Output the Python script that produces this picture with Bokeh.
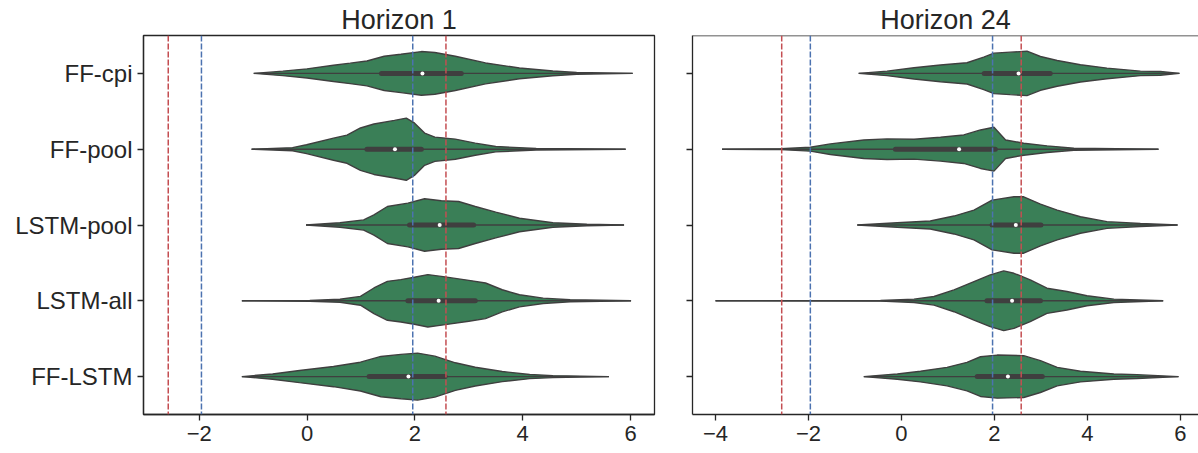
from bokeh.plotting import figure
from bokeh.layouts import row
from bokeh.models import Range1d, FixedTicker, Span
from bokeh.embed import file_html
from bokeh.resources import INLINE

# ---------------- data ----------------
models = ["FF-cpi", "FF-pool", "LSTM-pool", "LSTM-all", "FF-LSTM"]
panel_titles = ["Horizon 1", "Horizon 24"]

crit_values = [-2.576, -1.96, 1.96, 2.576]
crit_colors = ["#c44e52", "#4c72b0", "#4c72b0", "#c44e52"]

x_ticks_h1 = [-2, 0, 2, 4, 6]
x_ticks_h24 = [-4, -2, 0, 2, 4, 6]

# violin outline: x positions and half-widths (category units)
h1_prof_x = [
    [-0.99, -0.45, 0.0, 0.49, 0.8, 1.11, 1.43, 1.74, 2.12, 2.37, 2.75, 3.31, 3.94, 4.56, 5.0, 6.04],
    [-1.03, -0.27, -0.01, 0.49, 0.74, 0.99, 1.24, 1.62, 1.84, 1.99, 2.18, 2.37, 2.75, 3.12, 3.5, 4.25, 5.91],
    [-0.02, 0.61, 1.05, 1.24, 1.49, 1.87, 2.18, 2.49, 2.81, 3.12, 3.5, 3.94, 4.56, 5.19, 5.88],
    [-1.21, 0.05, 0.61, 0.99, 1.24, 1.49, 1.74, 1.99, 2.24, 2.56, 3.0, 3.31, 3.62, 3.94, 4.38, 4.88, 6.01],
    [-1.21, -0.64, -0.14, 0.49, 0.99, 1.37, 1.74, 2.05, 2.37, 2.75, 3.12, 3.62, 4.13, 4.56, 5.6],
]
h1_prof_w = [
    [0, 0.03, 0.06, 0.107, 0.135, 0.164, 0.226, 0.253, 0.288, 0.275, 0.226, 0.138, 0.071, 0.031, 0.012, 0],
    [0, 0.02, 0.058, 0.146, 0.186, 0.28, 0.333, 0.38, 0.41, 0.346, 0.213, 0.16, 0.133, 0.08, 0.035, 0.01, 0],
    [0, 0.03, 0.067, 0.133, 0.244, 0.288, 0.346, 0.32, 0.31, 0.244, 0.169, 0.089, 0.03, 0.01, 0],
    [0, 0.005, 0.02, 0.058, 0.169, 0.257, 0.28, 0.31, 0.346, 0.315, 0.27, 0.235, 0.146, 0.08, 0.035, 0.013, 0],
    [0, 0.035, 0.08, 0.133, 0.19, 0.266, 0.293, 0.31, 0.27, 0.182, 0.124, 0.067, 0.027, 0.013, 0],
]
h1_q1 = [1.38, 1.11, 1.90, 1.87, 1.15]
h1_med = [2.14, 1.63, 2.46, 2.44, 1.88]
h1_q3 = [2.86, 2.12, 3.09, 3.12, 2.56]

h24_prof_x = [
    [-0.92, -0.31, 0.27, 0.84, 1.41, 1.77, 1.99, 2.34, 2.7, 2.99, 3.35, 3.85, 4.42, 5.14, 5.57, 5.98],
    [-3.86, -2.6, -1.96, -1.53, -0.81, -0.31, 0.27, 0.84, 1.34, 1.7, 1.99, 2.24, 2.63, 3.13, 3.71, 5.53],
    [-0.95, -0.09, 0.62, 1.13, 1.56, 1.95, 2.42, 2.63, 2.99, 3.35, 3.85, 4.42, 5.14, 5.94],
    [-4.0, -0.45, 0.27, 0.7, 1.13, 1.56, 1.91, 2.2, 2.42, 2.77, 3.13, 3.56, 3.99, 4.57, 5.63],
    [-0.81, -0.09, 0.41, 0.98, 1.41, 1.7, 2.06, 2.63, 2.99, 3.35, 3.85, 4.57, 5.07, 5.96],
]
h24_prof_w = [
    [0, 0.03, 0.074, 0.11, 0.14, 0.214, 0.267, 0.28, 0.293, 0.223, 0.17, 0.114, 0.07, 0.03, 0.025, 0],
    [0, 0.005, 0.026, 0.07, 0.122, 0.136, 0.131, 0.157, 0.188, 0.254, 0.289, 0.122, 0.079, 0.044, 0.013, 0],
    [0, 0.03, 0.052, 0.118, 0.197, 0.328, 0.372, 0.372, 0.276, 0.197, 0.109, 0.044, 0.02, 0],
    [0, 0.004, 0.022, 0.057, 0.144, 0.254, 0.341, 0.394, 0.363, 0.276, 0.166, 0.122, 0.066, 0.022, 0],
    [0, 0.035, 0.07, 0.122, 0.188, 0.262, 0.284, 0.276, 0.21, 0.122, 0.07, 0.035, 0.026, 0],
]
h24_q1 = [1.78, -0.13, 1.95, 1.84, 1.63]
h24_med = [2.52, 1.24, 2.46, 2.38, 2.29]
h24_q3 = [3.20, 2.02, 3.00, 2.99, 3.03]

# ---------------- styling ----------------
FONT = "Liberation Sans"
DARK = "#262626"
EDGE = "#3f3f3f"
GREEN = "#3a7f57"


def make_panel(title, prof_x, prof_w, q1, med, q3, x_range, ticks, width,
               border_left, border_right, show_labels, full_outline):
    p = figure(width=width, height=453, x_range=Range1d(*x_range),
               y_range=Range1d(4.5, -0.5), output_backend="svg",
               toolbar_location=None, min_border_left=border_left,
               min_border_right=border_right, min_border_top=35,
               min_border_bottom=39, background_fill_color="white",
               border_fill_color="white")
    p.title.text = title
    p.title.align = "center"
    p.title.text_font = FONT
    p.title.text_font_size = "27px"
    p.title.text_font_style = "normal"
    p.title.text_color = DARK
    p.title.standoff = 1
    p.xgrid.visible = False
    p.ygrid.visible = False

    if full_outline:
        p.outline_line_color = DARK
        p.outline_line_width = 1.3
    else:
        p.outline_line_color = None
        p.add_layout(Span(location=-0.5, dimension="width",
                          line_color=DARK, line_width=1.3))

    # violins
    xs, ys = [], []
    for i, (px, pw) in enumerate(zip(prof_x, prof_w)):
        xs.append(list(px) + list(px)[::-1])
        ys.append([i - w for w in pw] + [i + w for w in list(pw)[::-1]])
    p.patches(xs=xs, ys=ys, fill_color=GREEN, line_color=EDGE, line_width=1.4)

    idx = list(range(len(models)))
    lo = [px[0] for px in prof_x]
    hi = [px[-1] for px in prof_x]
    p.segment(x0=lo, x1=hi, y0=idx, y1=idx, line_color=EDGE, line_width=1.4)
    p.segment(x0=q1, x1=q3, y0=idx, y1=idx, line_color=EDGE, line_width=5,
              line_cap="round")
    p.scatter(x=med, y=idx, size=4, fill_color="white", line_color=None)

    for v, c in zip(crit_values, crit_colors):
        p.add_layout(Span(location=v, dimension="height", line_color=c,
                          line_width=1.5, line_dash="6 2"))

    # axes
    for ax in (p.xaxis[0], p.yaxis[0]):
        ax.axis_line_color = DARK
        ax.axis_line_width = 1.3
        ax.major_tick_line_color = DARK
        ax.major_tick_line_width = 1.3
        ax.major_tick_out = 6
        ax.major_tick_in = 0
        ax.minor_tick_line_color = None
        ax.major_label_text_color = DARK
        ax.major_label_text_font = FONT

    p.xaxis.ticker = FixedTicker(ticks=ticks)
    p.xaxis.major_label_overrides = {t: ("\u2212" + str(abs(t)) if t < 0 else str(t)) for t in ticks}
    p.xaxis.major_label_text_font_size = "22px"
    p.xaxis.major_label_standoff = 5

    p.yaxis.ticker = FixedTicker(ticks=idx)
    if show_labels:
        p.yaxis.major_label_overrides = {i: m for i, m in enumerate(models)}
        p.yaxis.major_label_text_font_size = "24px"
    else:
        p.yaxis.major_label_overrides = {i: "" for i in idx}
        p.yaxis.major_label_text_font_size = "1px"
    p.yaxis.major_label_standoff = 5
    return p


p1 = make_panel(panel_titles[0], h1_prof_x, h1_prof_w, h1_q1, h1_med, h1_q3,
                (-3.035, 6.445), x_ticks_h1, 672, 143, 18, True, True)
p2 = make_panel(panel_titles[1], h24_prof_x, h24_prof_w, h24_q1, h24_med, h24_q3,
                (-4.495, 6.39), x_ticks_h24, 526, 20, 0, False, False)

layout = row(p1, p2, spacing=0)
open("out.html", "w").write(file_html(layout, INLINE))
